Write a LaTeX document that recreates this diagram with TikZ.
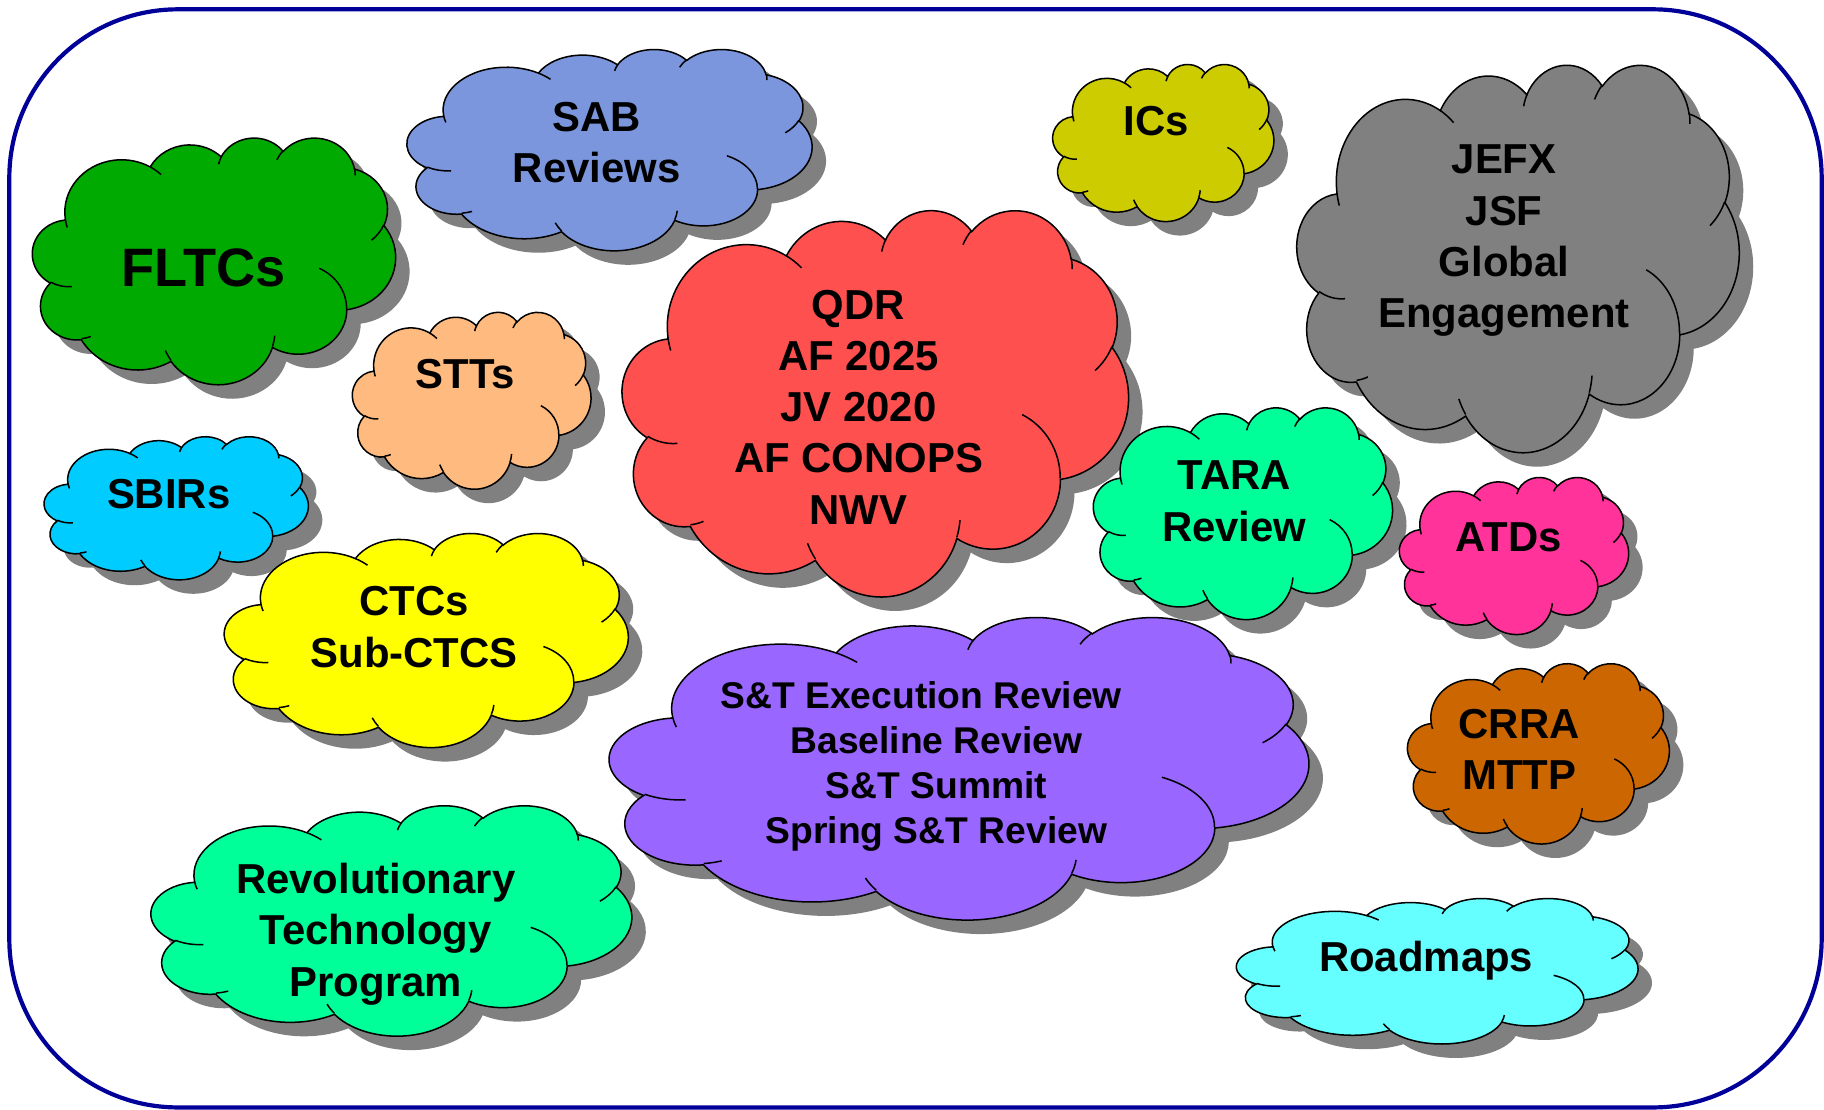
\documentclass[tikz,border=0pt]{standalone}
\usepackage{fontspec}
\setmainfont{Liberation Sans}
\definecolor{shadowgray}{HTML}{808080}
\definecolor{borderblue}{HTML}{000099}
\definecolor{cFLTC}{HTML}{00AA00}
\definecolor{cSAB}{HTML}{7B96DC}
\definecolor{cICs}{HTML}{CCCC00}
\definecolor{cJEFX}{HTML}{808080}
\definecolor{cQDR}{HTML}{FF5050}
\definecolor{cSTT}{HTML}{FFBB7F}
\definecolor{cSBIR}{HTML}{00CCFF}
\definecolor{cCTC}{HTML}{FFFF00}
\definecolor{cTARA}{HTML}{00FF99}
\definecolor{cATD}{HTML}{FF3399}
\definecolor{cPurp}{HTML}{9966FF}
\definecolor{cCRRA}{HTML}{CC6600}
\definecolor{cRoad}{HTML}{66FFFF}
% elliptical arc in DrawingML style (visual angles)
\newcommand\oxarc[4]{%
  \pgfmathsetmacro\oxta{atan2((#1)*sin(#3),(#2)*cos(#3))}%
  \pgfmathsetmacro\oxtb{atan2((#1)*sin(#3+#4),(#2)*cos(#3+#4))}%
  \pgfmathsetmacro\oxtb{\oxtb<\oxta ? \oxtb+360 : \oxtb}%
  \pgfpatharc{\oxta}{\oxtb}{#1pt and #2pt}%
}
\newcommand\cloudbody{%
  \pgfpathmoveto{\pgfqpoint{39pt}{143.70pt}}%
  \oxarc{67.53}{91.90}{-190.48748}{123.78053}%
  \oxarc{53.33}{72.67}{-144.10238}{89.94523}%
  \oxarc{43.65}{59.45}{-145.80792}{99.72302}%
  \oxarc{48.57}{65.95}{-130.98607}{117.24173}%
  \oxarc{53.33}{72.73}{-78.70888}{109.02692}%
  \oxarc{67.75}{92.20}{-46.26725}{130.269}%
  \oxarc{57.85}{78.67}{0.62502}{114.03333}%
  \oxarc{67.52}{92.15}{22.4516}{115.17255}%
  \oxarc{77.20}{105.43}{66.24263}{75.71102}%
  \oxarc{43.60}{59.18}{-274.94208}{146.73557}%
  \oxarc{43.45}{59.45}{-246.8285}{152.51885}%
  \pgfpathclose}
\newcommand\cloudlines{%
  \pgfpathmoveto{\pgfqpoint{46.93pt}{261.77pt}}\oxarc{43.45}{59.45}{86.742}{26.4295}%
  \pgfpathmoveto{\pgfqpoint{69.28pt}{348.99pt}}\oxarc{43.60}{59.18}{73.61047}{11.44747}%
  \pgfpathmoveto{\pgfqpoint{164.78pt}{390.90pt}}\oxarc{67.52}{92.15}{137.62415}{14.0811}%
  \pgfpathmoveto{\pgfqpoint{288.27pt}{347.51pt}}\oxarc{67.52}{92.15}{6.45327}{15.99835}%
  \pgfpathmoveto{\pgfqpoint{341.29pt}{229.54pt}}\oxarc{57.85}{78.67}{-70.29235}{70.91737}%
  \pgfpathmoveto{\pgfqpoint{417.98pt}{153.54pt}}\oxarc{53.33}{72.73}{30.31803}{27.7515}%
  \pgfpathmoveto{\pgfqpoint{383.24pt}{54.26pt}}\oxarc{48.57}{65.95}{-13.74433}{14.8589}%
  \pgfpathmoveto{\pgfqpoint{290.78pt}{39.52pt}}\oxarc{48.57}{65.95}{-149.18145}{18.19537}%
  \pgfpathmoveto{\pgfqpoint{221.41pt}{47.20pt}}\oxarc{43.65}{59.45}{-163.49427}{17.68635}%
  \pgfpathmoveto{\pgfqpoint{140.00pt}{51.92pt}}\oxarc{67.53}{91.90}{-66.70695}{12.31935}%
  \pgfpathmoveto{\pgfqpoint{41.27pt}{157.89pt}}\oxarc{67.53}{91.90}{157.65435}{11.85817}%
}
% x y w h color (top-left corner, size)
\newcommand\drawcloud[5]{%
  \begin{scope}[shift={(#1+12,#2+12)},xscale=#3/432,yscale=-#4/432]
    \cloudbody\pgfsetfillcolor{shadowgray}\pgfusepath{fill}
  \end{scope}
  \begin{scope}[shift={(#1,#2)},xscale=#3/432,yscale=-#4/432]
    \pgfsetlinewidth{1.3pt}\pgfsetstrokecolor{black}\pgfsetfillcolor{#5}%
    \cloudbody\pgfusepath{fill,stroke}
    \cloudlines\pgfusepath{stroke}
  \end{scope}
}
\tikzset{
  lbl/.style={font=\bfseries\fontsize{36}{44}\selectfont, align=center, inner sep=0pt},
  biglbl/.style={font=\bfseries\fontsize{46.5}{55}\selectfont, align=center, inner sep=0pt},
  smalllbl/.style={font=\bfseries\fontsize{32}{38.5}\selectfont, align=center, inner sep=0pt}
}
\begin{document}
\begin{tikzpicture}[x=1pt,y=-1pt]
\useasboundingbox (0,0) rectangle (1568,954);
\draw[borderblue, line width=3.6pt, rounded corners=145pt] (8,8) rectangle (1566,952);

\drawcloud{28}{118}{312}{212}{cFLTC}
\drawcloud{350}{42}{348}{173}{cSAB}
\drawcloud{905}{55}{190}{135}{cICs}
\drawcloud{1115}{55}{380}{333}{cJEFX}
\drawcloud{535}{180}{435}{332}{cQDR}
\drawcloud{303}{268}{205}{152}{cSTT}
\drawcloud{38}{375}{227}{123}{cSBIR}
\drawcloud{193}{458}{347}{184}{cCTC}
\drawcloud{940}{350}{257}{182}{cTARA}
\drawcloud{1203}{410}{197}{135}{cATD}
\drawcloud{524}{530}{601}{260}{cPurp}
\drawcloud{1210}{570}{225}{155}{cCRRA}
\drawcloud{130}{692}{413}{198}{cTARA}
\drawcloud{1063}{772}{345}{125}{cRoad}

\node[biglbl] (fltcs) at (175,230) {FLTCs};
\node[lbl] (sab) at (513,122.5) {SAB\\Reviews};
\node[lbl] (ics) at (994,104) {ICs};
\node[lbl] (jefx) at (1293,207) {JEFX\\JSF\\Global\\Engagement};
\node[lbl] (qdr) at (738,350) {QDR\\AF 2025\\JV 2020\\AF CONOPS\\NWV};
\node[lbl] (stts) at (400,322) {STTs};
\node[lbl] (sbirs) at (145,425) {SBIRs};
\node[lbl] (ctcs) at (356,539) {CTCs\\Sub-CTCS};
\node[lbl] (tara) at (1061,431) {TARA\\Review};
\node[lbl] (atds) at (1297,462) {ATDs};
\node[smalllbl] (st) at (805,659) {S\&T Execution Review\hspace*{26pt}\\Baseline Review\\S\&T Summit\\Spring S\&T Review};
\node[lbl] (crra) at (1306,644) {CRRA\\MTTP};
\node[lbl] (rtp) at (323,803) {Revolutionary\\Technology\\Program};
\node[lbl] (road) at (1226,826) {Roadmaps};
\end{tikzpicture}
\end{document}
